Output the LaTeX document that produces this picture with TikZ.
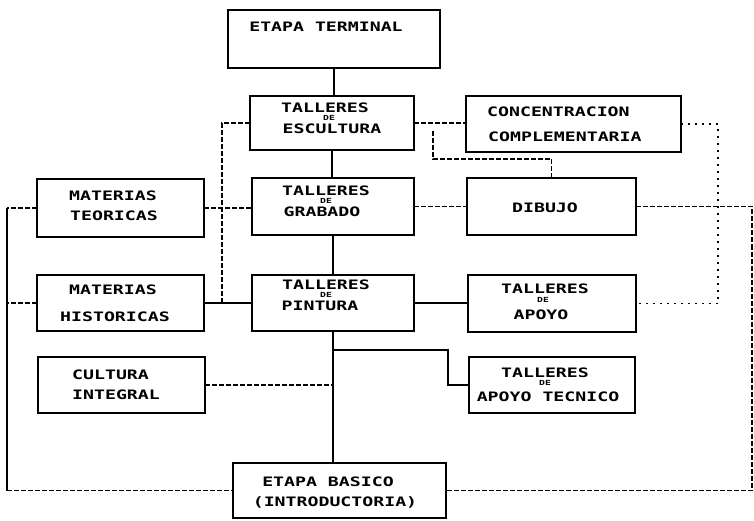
\documentclass[tikz,border=0pt]{standalone}
\usepackage{fontspec}
\newfontfamily\lblfamily[FakeStretch=1.4]{DejaVu Sans Mono}
\begin{document}
\begin{tikzpicture}[x=1pt,y=-1pt,
  box/.style={draw, line width=2.6pt, inner sep=0pt, outer sep=0pt},
  lbl/.style={font=\lblfamily\bfseries\fontsize{13}{13}\selectfont, inner sep=0pt},
  sm/.style={font=\lblfamily\bfseries\fontsize{7}{7}\selectfont, inner sep=0pt},
  solidln/.style={line width=1.3pt},
  dashln/.style={line width=1.1pt, dash pattern=on 5pt off 2pt},
  dotln/.style={line width=1.4pt, dash pattern=on 2pt off 5pt}]
\useasboundingbox (0,0) rectangle (754,521);
% boxes
\node[box, minimum width=212pt, minimum height=58pt] (term)  at (334,39) {};
\node[box, minimum width=164pt, minimum height=54pt] (esc)   at (332,123) {};
\node[box, minimum width=215pt, minimum height=56pt] (conc)  at (573.5,124) {};
\node[box, minimum width=167pt, minimum height=58pt] (teo)   at (120.5,208) {};
\node[box, minimum width=162pt, minimum height=57pt] (grab)  at (333,206.5) {};
\node[box, minimum width=169pt, minimum height=57pt] (dib)   at (551.5,206.5) {};
\node[box, minimum width=167pt, minimum height=56pt] (hist)  at (120.5,303) {};
\node[box, minimum width=162pt, minimum height=56pt] (pint)  at (333,303) {};
\node[box, minimum width=168pt, minimum height=57pt] (apoyo) at (552,303.5) {};
\node[box, minimum width=167pt, minimum height=56pt] (cult)  at (121.5,385) {};
\node[box, minimum width=166pt, minimum height=56pt] (tec)   at (552,385) {};
\node[box, minimum width=213pt, minimum height=55pt] (bas)   at (339.5,490.5) {};
% texts
\node[lbl] (t1) at (326,27) {ETAPA TERMINAL};
\node[lbl] (t2a) at (325,108) {TALLERES};
\node[sm]  (t2b) at (329,118) {DE};
\node[lbl] (t2c) at (332,129) {ESCULTURA};
\node[lbl, anchor=west] (t3a) at (487,112) {CONCENTRACION};
\node[lbl, anchor=west] (t3b) at (488,137) {COMPLEMENTARIA};
\node[lbl] (t4a) at (113,196) {MATERIAS};
\node[lbl] (t4b) at (114,216) {TEORICAS};
\node[lbl] (t5a) at (326,191) {TALLERES};
\node[sm]  (t5b) at (326,201) {DE};
\node[lbl] (t5c) at (322,212) {GRABADO};
\node[lbl] (t6) at (545,208) {DIBUJO};
\node[lbl] (t7a) at (113,290) {MATERIAS};
\node[lbl] (t7b) at (115,317) {HISTORICAS};
\node[lbl] (t8a) at (326,285) {TALLERES};
\node[sm]  (t8b) at (326,295) {DE};
\node[lbl] (t8c) at (320,306) {PINTURA};
\node[lbl] (t9a) at (545,289) {TALLERES};
\node[sm]  (t9b) at (543,300) {DE};
\node[lbl] (t9c) at (541,315) {APOYO};
\node[lbl, anchor=west] (t10a) at (72,375) {CULTURA};
\node[lbl, anchor=west] (t10b) at (72,395) {INTEGRAL};
\node[lbl] (t11a) at (545,373) {TALLERES};
\node[sm]  (t11b) at (545,383) {DE};
\node[lbl] (t11c) at (548,397) {APOYO TECNICO};
\node[lbl] (t12a) at (328,482) {ETAPA BASICO};
\node[lbl] (t12b) at (335,502) {(INTRODUCTORIA)};
% helper coordinates
\coordinate (L) at (7,0);
\coordinate (R) at (752,0);
\coordinate (DR) at (718,0);
\coordinate (jL) at (222,303);
\coordinate (e1) at (433,131);
\coordinate (e2) at (551.5,159);
\coordinate (k1) at (448,350);
% solid connectors
\draw[solidln] (term.south) -- (term.south |- esc.north);
\draw[solidln] (esc.south) -- (esc.south |- grab.north);
\draw[solidln] (grab.south) -- (grab.south |- pint.north);
\draw[solidln] (pint.south) -- (pint.south |- bas.north);
\draw[solidln] (hist.east) -- (pint.west);
\draw[solidln] (pint.east) -- (pint.east -| apoyo.west);
\draw[solidln] (k1 -| pint.south) -- (k1) |- (tec.west);
\draw[solidln] (teo.west -| L) -- (L |- bas.west);
% dashed connectors
\draw[dashln] (esc.west) -| (jL);
\draw[dashln] (esc.east) -- (esc.east -| conc.west);
\draw[dashln] (e1) |- (e2) -- (dib.north);
\draw[dashln] (teo.east) -- (teo.east -| grab.west);
\draw[dashln] (grab.east) -- (dib.west);
\draw[dashln] (teo.west) -- (teo.west -| L);
\draw[dashln] (hist.west) -- (hist.west -| L);
\draw[dashln] (L |- bas.west) -- (bas.west);
\draw[dashln] (cult.east) -- (cult.east -| pint.south);
\draw[dashln] (dib.east) -- (dib.east -| R) -- (R |- bas.east) -- (bas.east);
% dotted connectors
\draw[dotln] (conc.east) -- (conc.east -| DR) -- (DR |- apoyo.east) -- (apoyo.east);
\end{tikzpicture}
\end{document}
